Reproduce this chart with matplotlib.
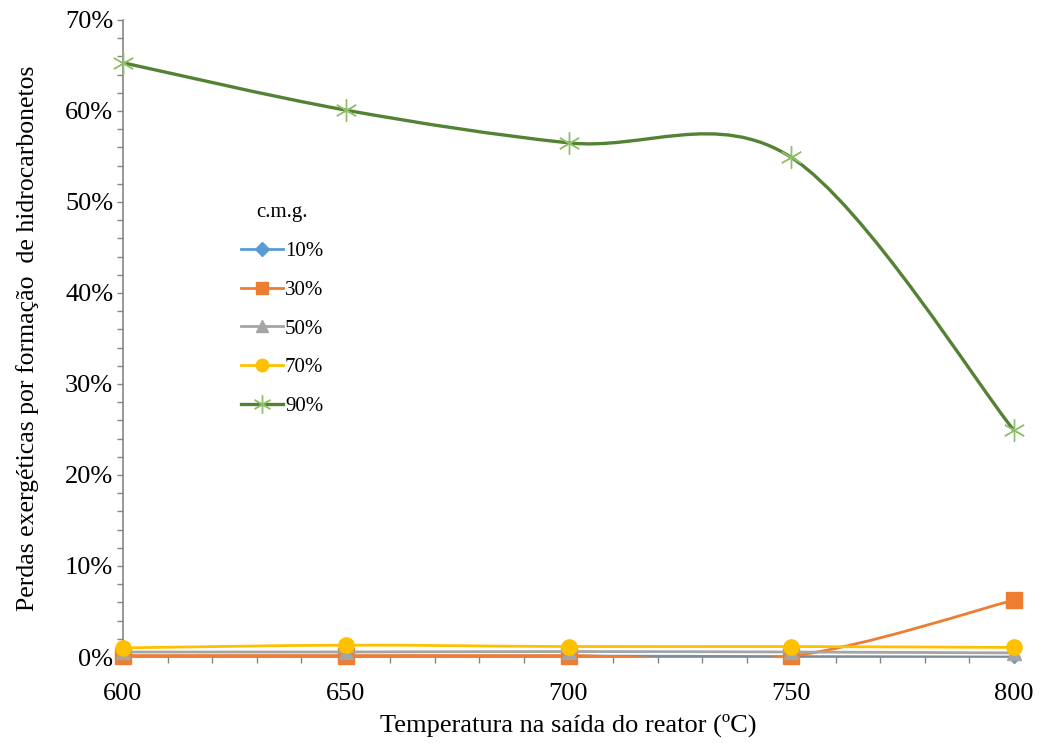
import matplotlib
matplotlib.use("Agg")
import matplotlib.pyplot as plt
import numpy as np
from matplotlib.path import Path
from matplotlib.patches import PathPatch
from matplotlib.lines import Line2D
from matplotlib.ticker import MultipleLocator, FuncFormatter

temps = [600, 650, 700, 750, 800]
labels = ["10%", "30%", "50%", "70%", "90%"]
v10 = [0.1, 0.1, 0.1, 0.05, 0.0]
v30 = [0.15, 0.15, 0.15, 0.1, 6.25]
v50 = [0.55, 0.55, 0.6, 0.55, 0.45]
v70 = [1.0, 1.3, 1.15, 1.15, 1.05]
v90 = [65.3, 60.1, 56.5, 54.9, 24.9]
series = [v10, v30, v50, v70, v90]

colors = ["#5B9BD5", "#ED7D31", "#A5A5A5", "#FFC000", "#548235"]
mcolors = ["#5B9BD5", "#ED7D31", "#A5A5A5", "#FFC000", "#8FBF6A"]
markers = ["D", "s", "^", "o", (6, 2, 0)]
msizes = [6, 12, 10, 11, 16]
lws = [2.0, 2.0, 2.0, 2.0, 2.4]

plt.rcParams['font.family'] = ['Liberation Serif', 'DejaVu Serif']

fig = plt.figure(figsize=(10.4, 7.43), dpi=100)
ax = fig.add_axes([123/1040, 1-657/743, (1014-123)/1040, (657-20)/743])


def smooth_path(xs, ys):
    xs = np.asarray(xs, float)
    ys = np.asarray(ys, float)
    n = len(xs)
    verts = [(xs[0], ys[0])]
    codes = [Path.MOVETO]
    for i in range(n - 1):
        ip = max(i - 1, 0)
        inx = min(i + 2, n - 1)
        c1 = (xs[i] + (xs[i+1] - xs[ip]) / 6, ys[i] + (ys[i+1] - ys[ip]) / 6)
        c2 = (xs[i+1] - (xs[inx] - xs[i]) / 6, ys[i+1] - (ys[inx] - ys[i]) / 6)
        verts += [c1, c2, (xs[i+1], ys[i+1])]
        codes += [Path.CURVE4] * 3
    return Path(verts, codes)


handles = []
for k, (vals, lab) in enumerate(zip(series, labels)):
    z = 2 + k
    patch = PathPatch(smooth_path(temps, vals), facecolor='none', edgecolor=colors[k],
                      lw=lws[k], zorder=z, capstyle='round')
    ax.add_patch(patch)
    ax.plot(temps, vals, linestyle='none', marker=markers[k], ms=msizes[k],
            mec=mcolors[k], mfc=mcolors[k], mew=1.0, zorder=z + 0.5, clip_on=False)
    handles.append(Line2D([0], [0], color=colors[k], lw=lws[k],
                          marker=markers[k], ms=[7, 9, 9, 9, 13][k],
                          mfc=mcolors[k], mec=mcolors[k], mew=1.0))

ax.set_xlim(600, 800)
ax.set_ylim(0, 70)
ax.xaxis.set_major_locator(MultipleLocator(50))
ax.xaxis.set_minor_locator(MultipleLocator(10))
ax.yaxis.set_major_locator(MultipleLocator(10))
ax.yaxis.set_minor_locator(MultipleLocator(2))
ax.yaxis.set_major_formatter(FuncFormatter(lambda v, p: f"{v:.0f}%"))

for s in ['top', 'right']:
    ax.spines[s].set_visible(False)
for s in ['left', 'bottom']:
    ax.spines[s].set_color('#868686')
    ax.spines[s].set_linewidth(1.2)
ax.tick_params(which='both', direction='out', color='#868686', width=1.0, labelsize=19,
               labelcolor='black')
ax.tick_params(which='major', length=4)
ax.tick_params(which='minor', length=4)
ax.tick_params(axis='x', pad=15)
ax.tick_params(axis='y', pad=3)

ax.set_xlabel("Temperatura na saída do reator (ºC)", fontsize=19, labelpad=6)
ax.set_ylabel("Perdas exergéticas por formação  de hidrocarbonetos", fontsize=18.5, labelpad=19)

leg = fig.legend(handles, labels, title="c.m.g.", loc='upper left',
                 bbox_to_anchor=(233/1040, 1-195/743), frameon=False, fontsize=15,
                 title_fontsize=15, labelspacing=0.92, handlelength=2.0,
                 handletextpad=0.1, borderaxespad=0)

fig.savefig("out.png", dpi=100)
